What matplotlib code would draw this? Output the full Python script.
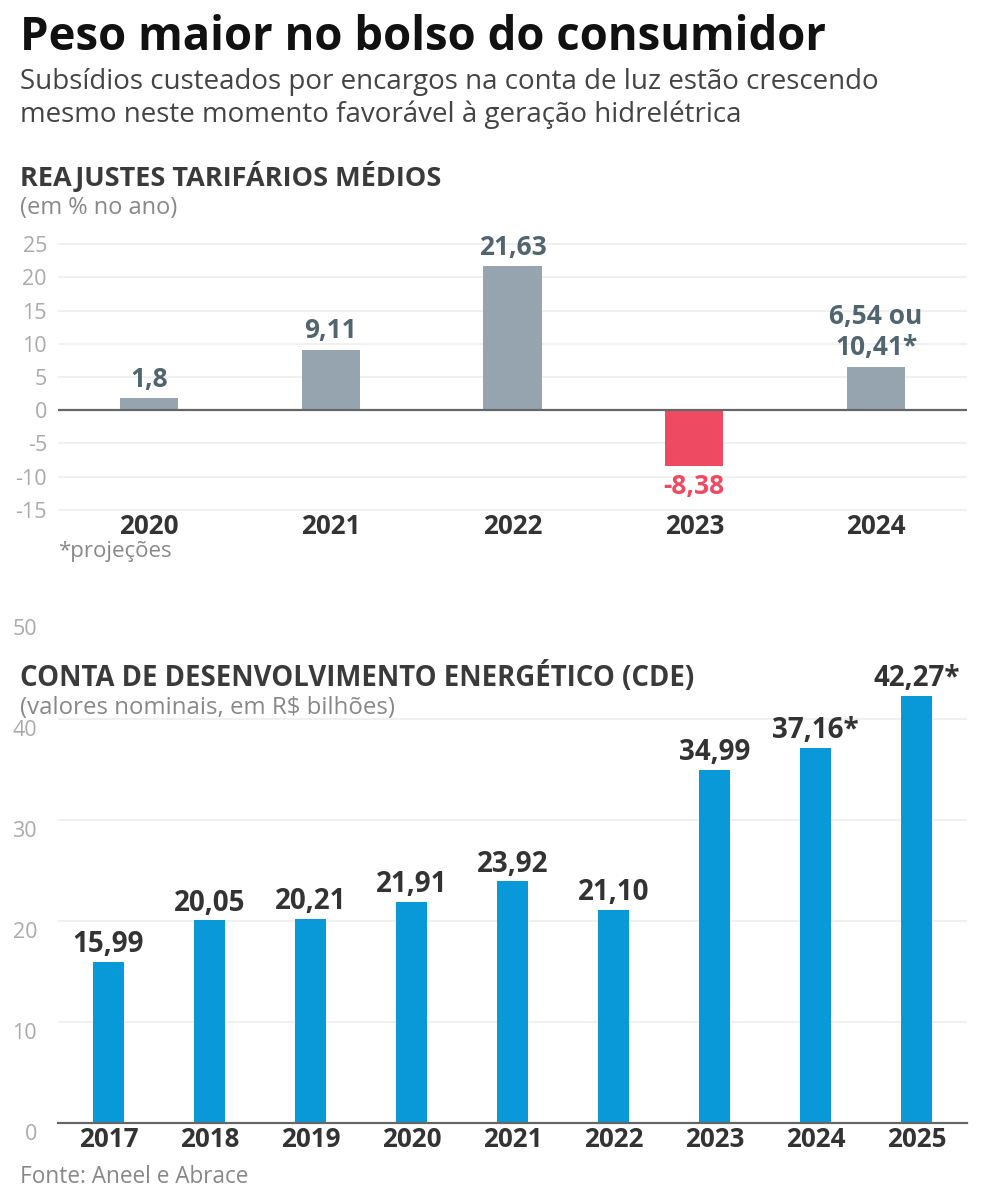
import matplotlib
matplotlib.use("Agg")
import matplotlib.pyplot as plt
from matplotlib import transforms

plt.rcParams['font.family'] = ['Open Sans', 'DejaVu Sans']

# ---- data ----
reaj_years = ['2020', '2021', '2022', '2023', '2024']
reaj_values = [1.8, 9.11, 21.63, -8.38, 6.54]
reaj_labels = ['1,8', '9,11', '21,63', '-8,38', '6,54 ou\n10,41*']
reaj_yticks = [25, 20, 15, 10, 5, 0, -5, -10, -15]

cde_years = ['2017', '2018', '2019', '2020', '2021', '2022', '2023', '2024', '2025']
cde_values = [15.99, 20.05, 20.21, 21.91, 23.92, 21.10, 34.99, 37.16, 42.27]
cde_labels = ['15,99', '20,05', '20,21', '21,91', '23,92', '21,10', '34,99', '37,16*', '42,27*']
cde_yticks = [0, 10, 20, 30, 40, 50]

GRAY_BAR = '#95A4AE'
RED_BAR = '#EE4A62'
BLUE_BAR = '#0A99D8'
GRAY_LABEL = '#51656F'
DARK = '#333333'
TICK = '#AAAAAA'
GRID = '#EEEEEE'

W, H = 984, 1195
fig = plt.figure(figsize=(W / 100, H / 100), dpi=100)

def fx(px):
    return px / W

def fy(py):
    return 1 - py / H

# ---- header ----
fig.text(fx(20), fy(37), 'Peso maior no bolso do consumidor', fontsize=32.8,
         fontweight='bold', color='#111111', va='center', ha='left')
fig.text(fx(20), fy(82), 'Subsídios custeados por encargos na conta de luz estão crescendo',
         fontsize=20, color='#444444', va='center', ha='left')
fig.text(fx(20), fy(115), 'mesmo neste momento favorável à geração hidrelétrica',
         fontsize=20, color='#444444', va='center', ha='left')

# ---- top chart ----
fig.text(fx(20), fy(176), 'REAJUSTES TARIFÁRIOS MÉDIOS', fontsize=19.5,
         fontweight='bold', color='#3A3A3A', va='center', ha='left')
fig.text(fx(20), fy(208), '(em % no ano)', fontsize=17, color='#888888',
         va='center', ha='left')

ylo, yhi = -15.5, 25.5
ppu = 6.64
top_px = 244 - (yhi - 25) * ppu
bot_px = 510 + (-15 - ylo) * ppu
ax1 = fig.add_axes([fx(58), fy(bot_px), fx(967 - 58), (bot_px - top_px) / H])
x1 = list(range(len(reaj_years)))
colors1 = [RED_BAR if v < 0 else GRAY_BAR for v in reaj_values]
ax1.bar(x1, reaj_values, width=0.32, color=colors1, zorder=3)
ax1.set_xlim(-0.5, len(reaj_years) - 0.5)
ax1.set_ylim(ylo, yhi)
for t in reaj_yticks:
    if t != 0:
        ax1.axhline(t, color=GRID, lw=1.2, zorder=1)
ax1.axhline(0, color='#666666', lw=1.6, zorder=4)
ax1.set_yticks(reaj_yticks)
ax1.set_yticklabels([str(t) for t in reaj_yticks])
ax1.set_xticks(x1)
ax1.set_xticklabels(reaj_years)
ax1.tick_params(axis='y', length=0, labelsize=15.5, labelcolor=TICK, pad=8)
ax1.tick_params(axis='x', length=0, labelsize=18.7, labelcolor=DARK, pad=0)
for lab in ax1.get_xticklabels():
    lab.set_fontweight('bold')
for s in ax1.spines.values():
    s.set_visible(False)
for xi, v, lab in zip(x1, reaj_values, reaj_labels):
    col = RED_BAR if v < 0 else GRAY_LABEL
    if v >= 0:
        ax1.annotate(lab, (xi, v), xytext=(0, 4), textcoords='offset points',
                     ha='center', va='bottom', fontsize=19, fontweight='bold',
                     color=col, linespacing=1.2)
    else:
        ax1.annotate(lab, (xi, v), xytext=(0, -5), textcoords='offset points',
                     ha='center', va='top', fontsize=19, fontweight='bold', color=col)
fig.text(fx(58), fy(552), '*projeções', fontsize=16, color='#888888',
         va='center', ha='left')

# ---- bottom chart ----
ax2 = fig.add_axes([fx(58), fy(1123), fx(967 - 58), (1123 - 618) / H])
x2 = list(range(len(cde_years)))
ax2.bar(x2, cde_values, width=0.31, color=BLUE_BAR, zorder=3)
ax2.set_xlim(-0.5, len(cde_years) - 0.5)
ax2.set_ylim(0, 50)
for t in cde_yticks:
    if 0 < t < 50:
        ax2.axhline(t, color=GRID, lw=1.2, zorder=1)
ax2.axhline(0, color='#666666', lw=1.6, zorder=4, clip_on=False)
ax2.set_yticks(cde_yticks)
ax2.set_yticklabels([str(t) for t in cde_yticks])
ax2.set_xticks(x2)
ax2.set_xticklabels(cde_years)
ax2.tick_params(axis='y', length=0, labelsize=15.5, labelcolor=TICK, pad=15)
ax2.tick_params(axis='x', length=0, labelsize=18.7, labelcolor=DARK, pad=2.5)
for lab in ax2.get_yticklabels():
    lab.set_va('top')
    lab.set_transform(lab.get_transform() + transforms.ScaledTranslation(0, -1 / 100, fig.dpi_scale_trans))
for lab in ax2.get_xticklabels():
    lab.set_fontweight('bold')
for s in ax2.spines.values():
    s.set_visible(False)
for xi, v, lab in zip(x2, cde_values, cde_labels):
    ax2.annotate(lab, (xi, v), xytext=(0, 2), textcoords='offset points',
                 ha='center', va='bottom', fontsize=20, fontweight='bold', color=DARK)

fig.text(fx(20), fy(677), 'CONTA DE DESENVOLVIMENTO ENERGÉTICO (CDE)', fontsize=19.8,
         fontweight='bold', color='#3A3A3A', va='center', ha='left')
fig.text(fx(20), fy(708), '(valores nominais, em R$ bilhões)', fontsize=17.3,
         color='#888888', va='center', ha='left')

fig.text(fx(20), fy(1177), 'Fonte: Aneel e Abrace', fontsize=16.3, color='#888888',
         va='center', ha='left')

fig.savefig('out.png', dpi=100)
